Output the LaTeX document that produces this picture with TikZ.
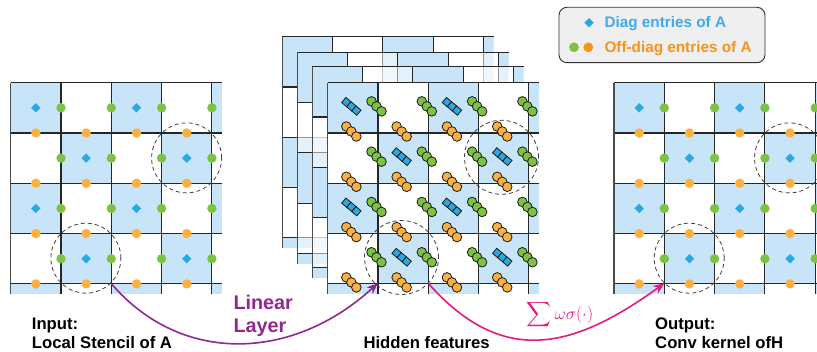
\documentclass[tikz,border=0pt]{standalone}
\usepackage{exscale}
\usepackage{fontspec}
\setmainfont{Liberation Sans}
\usetikzlibrary{arrows.meta}

\definecolor{cellblue}{HTML}{C7E4F8}
\definecolor{diagblue}{HTML}{29A9E1}
\definecolor{offgreen}{HTML}{7DC242}
\definecolor{offorange}{HTML}{FBB040}
\definecolor{legblue}{HTML}{3FA9EE}
\definecolor{legorange}{HTML}{F7941D}
\definecolor{linpurple}{HTML}{92278F}
\definecolor{sumpink}{HTML}{E6197E}
\definecolor{legfill}{HTML}{EFEFEF}

% cell size of the stencil grids
\def\cs{50.3}

\tikzset{
  gridline/.style={black!85, line width=1.1pt},
  gridedge/.style={black!70, line width=1.4pt},
  kernelring/.style={black!75, line width=0.8pt, dash pattern=on 4pt off 3pt},
  stackdisc/.style={draw=black!90, line width=0.8pt},
  flow/.style={line width=1.6pt, -{Stealth[length=11pt,width=9pt]}},
  caption/.style={font=\fontsize{16.7}{18}\selectfont\bfseries, anchor=base west, inner sep=0pt},
  legtext/.style={font=\fontsize{15.3}{17}\selectfont\bfseries, anchor=base west, inner sep=0pt},
  layertext/.style={font=\fontsize{19.8}{22}\selectfont\bfseries, text=linpurple, anchor=base west, inner sep=0pt},
}

% diagonal-entry marker
\newcommand{\diagmark}[1]{%
  \fill[diagblue] #1 +(0,-4.7) -- +(4.7,0) -- +(0,4.7) -- +(-4.7,0) -- cycle;}

% checkerboard layer: #1 origin, #2 opacity of the white cells
\newcommand{\checkerlayer}[2]{%
  \begin{scope}[shift={#1}]
    \begin{scope}
      \clip (0,0) rectangle ({4.2*\cs},{4.2*\cs});
      \foreach \r in {0,...,4}{
        \foreach \c in {0,...,4}{
          \pgfmathtruncatemacro{\parity}{mod(\r+\c,2)}
          \ifnum\parity=0
            \fill[cellblue] ({\c*\cs},{\r*\cs}) rectangle ++(\cs,\cs);
          \else
            \fill[white, fill opacity=#2] ({\c*\cs},{\r*\cs}) rectangle ++(\cs,\cs);
          \fi
        }
      }
      \foreach \k in {1,...,4}{
        \draw[gridline] ({\k*\cs},0) -- ({\k*\cs},{4.2*\cs});
        \draw[gridline] (0,{\k*\cs}) -- ({4.2*\cs},{\k*\cs});
      }
    \end{scope}
    \draw[gridline] (0,0) -- ({4.2*\cs},0);
    \draw[gridedge] (0,0) -- (0,{4.2*\cs});
  \end{scope}}

% stencil entries: diagonal diamonds, off-diagonal discs
\newcommand{\stencildots}[1]{%
  \begin{scope}[shift={#1}]
    \foreach \r in {0,...,3}{
      \foreach \k in {1,...,4}{
        \fill[offgreen] ({\k*\cs},{(\r+0.5)*\cs}) circle (4.7pt);
        \fill[offorange] ({(\r+0.5)*\cs},{\k*\cs}) circle (4.7pt);
      }
      \foreach \c in {0,...,3}{
        \pgfmathtruncatemacro{\parity}{mod(\r+\c,2)}
        \ifnum\parity=0
          \diagmark{({(\c+0.5)*\cs},{(\r+0.5)*\cs})}
        \fi
      }
    }
  \end{scope}}

% hidden-feature glyphs: stacked discs and bars of squares
\newcommand{\hiddenglyphs}[1]{%
  \begin{scope}[shift={#1}]
    \foreach \r in {0,...,3}{
      \foreach \k in {1,...,4}{
        \foreach \d in {-5,0,5}{
          \filldraw[stackdisc, fill=offgreen] ({\k*\cs+\d-1.5},{(\r+0.5)*\cs+\d-1.5}) circle (4.8pt);
        }
        \foreach \d in {-5,0,5}{
          \filldraw[stackdisc, fill=offorange] ({(\r+0.5)*\cs+\d-1.5},{\k*\cs+\d-1.5}) circle (4.8pt);
        }
      }
      \foreach \c in {0,...,3}{
        \pgfmathtruncatemacro{\parity}{mod(\r+\c,2)}
        \ifnum\parity=0
          \begin{scope}[shift={({(\c+0.5)*\cs-1.5},{(\r+0.5)*\cs-1.5})}, rotate=-40]
            \foreach \d in {-6.6,0,6.6}{
              \filldraw[stackdisc, fill=diagblue] ({\d-3.3},-3.3) rectangle ({\d+3.3},3.3);
            }
          \end{scope}
        \fi
      }
    }
  \end{scope}}

\begin{document}
\begin{tikzpicture}[x=1pt,y=-1pt]
\useasboundingbox (0,0) rectangle (817,352);

% input stencil
\checkerlayer{(10.7,82.7)}{1}
\stencildots{(10.7,82.7)}
\draw[kernelring] (186.6,157.9) circle (35pt);
\draw[kernelring] (85.9,258.2) circle (35pt);

% hidden feature maps
\checkerlayer{(282.3,36.7)}{0.5}
\checkerlayer{(297.3,52.3)}{0.5}
\checkerlayer{(312.3,66.7)}{0.5}
\checkerlayer{(327.7,82.7)}{1}
\hiddenglyphs{(327.7,82.7)}
\draw[kernelring] (501.5,157.3) circle (37pt);
\draw[kernelring] (401.5,257.5) circle (37pt);

% output kernel
\checkerlayer{(614,82.7)}{1}
\stencildots{(614,82.7)}
\draw[kernelring] (789.5,157.9) circle (35pt);
\draw[kernelring] (689.2,258.2) circle (35pt);

% legend
\node[draw=black!80, fill=legfill, rounded corners=8pt, line width=0.9pt,
      minimum width=206pt, minimum height=55.4pt, inner sep=0pt] (legend) at (662,35) {};
\diagmark{(589,22.7)}
\fill[offgreen] (574,47.3) circle (4.9pt);
\fill[legorange] (588.3,47.3) circle (4.9pt);
\node[legtext, text=legblue] (legdiag) at (604.3,27.4) {Diag entries of A};
\node[legtext, text=legorange] (legoff) at (604.3,53) {Off-diag entries of A};

% connectors between the kernels
\coordinate (inA) at (111,283.3);
\coordinate (hidA) at (377.7,283.3);
\coordinate (hidB) at (428.3,283.3);
\coordinate (outB) at (664.3,283.3);
\draw[flow, linpurple] (inA) .. controls +(70,82) and +(-85,78) .. (hidA);
\draw[flow, sumpink] (hidB) .. controls +(75,85) and +(-90,65) .. (outB);

\node[layertext] (linlbl1) at (233.3,309.3) {Linear};
\node[layertext] (linlbl2) at (233.3,332.7) {Layer};
\node[text=sumpink, inner sep=0pt, font=\fontsize{17.3}{20}\selectfont] (sumlbl) at (560,315)
  {$\displaystyle\sum\omega\sigma(\cdot)$};

% captions
\node[caption] (capin1) at (31.7,329.5) {Input:};
\node[caption] (capin2) at (31.7,348.8) {Local Stencil of A};
\node[caption] (caphid) at (363.3,348.8) {Hidden features};
\node[caption] (capout1) at (655,329.5) {Output:};
\node[caption] (capout2) at (655,348.8) {Conv kernel ofH};
\end{tikzpicture}
\end{document}
